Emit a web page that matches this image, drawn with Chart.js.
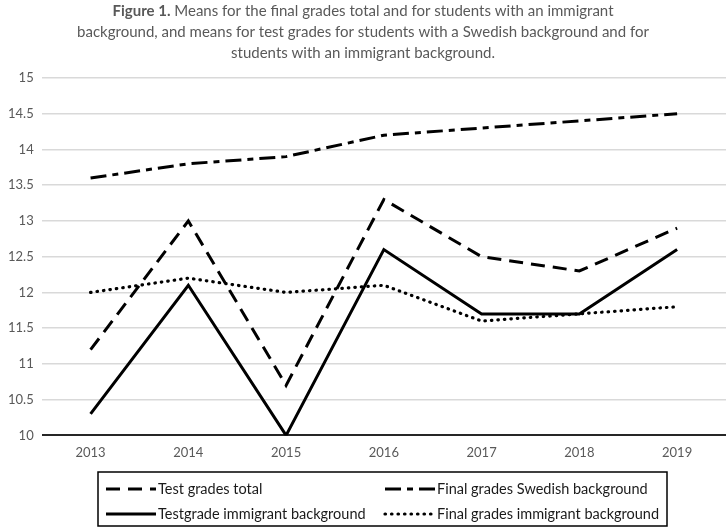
<!DOCTYPE html>
<html>
<head>
<meta charset="utf-8">
<script src="https://cdn.jsdelivr.net/npm/chart.js@4"></script>
<style>
  html, body { margin: 0; padding: 0; background: #fff; overflow: hidden; }
  #wrap { width: 726px; height: 529px; }
</style>
</head>
<body>
<div id="wrap"><canvas id="gradesChart" width="726" height="529"></canvas></div>
<script>
const years = ['2013', '2014', '2015', '2016', '2017', '2018', '2019'];
const testTotal = [11.2, 13.0, 10.7, 13.3, 12.5, 12.3, 12.9];
const finalSwedish = [13.6, 13.8, 13.9, 14.2, 14.3, 14.4, 14.5];
const testImmigrant = [10.3, 12.1, 10.0, 12.6, 11.7, 11.7, 12.6];
const finalImmigrant = [12.0, 12.2, 12.0, 12.1, 11.6, 11.7, 11.8];

const FONT = 'Lato, "Open Sans", sans-serif';

// title with bold "Figure 1." prefix
const titlePlugin = {
  id: 'figTitle',
  afterDraw(chart) {
    const ctx = chart.ctx;
    const cx = chart.width / 2;
    ctx.save();
    ctx.fillStyle = '#595959';
    ctx.textBaseline = 'middle';
    const bold = 'bold 15px ' + FONT;
    const reg = '15px ' + FONT;
    const head = 'Figure 1.';
    const rest = ' Means for the final grades total and for students with an immigrant';
    ctx.font = bold;
    const w1 = ctx.measureText(head).width;
    ctx.font = reg;
    const w2 = ctx.measureText(rest).width;
    let x = cx - (w1 + w2) / 2;
    ctx.textAlign = 'left';
    ctx.font = bold;
    ctx.fillText(head, x, 11);
    ctx.font = reg;
    ctx.fillText(rest, x + w1, 11);
    ctx.textAlign = 'center';
    ctx.fillText('background, and means for test grades for students with a Swedish background and for', cx, 32);
    ctx.fillText('students with an immigrant background.', cx, 53);
    ctx.restore();
  }
};

// boxed two-column legend
const legendPlugin = {
  id: 'boxLegend',
  afterDraw(chart) {
    const ctx = chart.ctx;
    const slots = [
      { x: 106, y: 489 }, { x: 385, y: 489 },
      { x: 106, y: 514 }, { x: 385, y: 514 }
    ];
    ctx.save();
    ctx.strokeStyle = '#000';
    ctx.lineWidth = 1.5;
    ctx.strokeRect(98, 472, 569, 54);
    chart.data.datasets.forEach((ds, i) => {
      const s = slots[i];
      ctx.beginPath();
      ctx.strokeStyle = ds.borderColor;
      ctx.lineWidth = ds.borderWidth;
      ctx.lineCap = ds.borderCapStyle || 'butt';
      ctx.setLineDash(ds.borderDash || []);
      ctx.moveTo(s.x, s.y);
      ctx.lineTo(s.x + 50, s.y);
      ctx.stroke();
      ctx.setLineDash([]);
      ctx.fillStyle = '#1a1a1a';
      ctx.font = '14.5px ' + FONT;
      ctx.textBaseline = 'middle';
      ctx.textAlign = 'left';
      ctx.fillText(ds.label, s.x + 52, s.y);
    });
    ctx.restore();
  }
};

new Chart(document.getElementById('gradesChart').getContext('2d'), {
  type: 'line',
  data: {
    labels: years,
    datasets: [
      {
        label: 'Test grades total',
        data: testTotal,
        borderColor: '#000',
        borderWidth: 3,
        borderDash: [14, 8]
      },
      {
        label: 'Final grades Swedish background',
        data: finalSwedish,
        borderColor: '#000',
        borderWidth: 3,
        borderDash: [16, 6, 6, 6]
      },
      {
        label: 'Testgrade immigrant background',
        data: testImmigrant,
        borderColor: '#000',
        borderWidth: 3
      },
      {
        label: 'Final grades immigrant background',
        data: finalImmigrant,
        borderColor: '#000',
        borderWidth: 3.2,
        borderCapStyle: 'round',
        borderDash: [0.5, 6]
      }
    ]
  },
  options: {
    responsive: false,
    animation: false,
    elements: {
      point: { radius: 0 },
      line: { tension: 0 }
    },
    layout: {
      padding: { top: 78, bottom: 66, left: 0, right: 0 }
    },
    plugins: {
      legend: { display: false },
      title: { display: false },
      tooltip: { enabled: false }
    },
    scales: {
      x: {
        offset: true,
        grid: { display: false },
        border: { display: false },
        ticks: { color: '#595959', font: { family: FONT, size: 13 }, padding: 2 }
      },
      y: {
        min: 10,
        max: 15,
        ticks: {
          stepSize: 0.5,
          color: '#595959',
          font: { family: FONT, size: 13 },
          padding: 8,
          callback: v => String(v)
        },
        grid: {
          color: c => (c.tick && c.tick.value === 10 ? '#262626' : '#d9d9d9'),
          lineWidth: c => (c.tick && c.tick.value === 10 ? 2 : 1.5),
          drawTicks: false
        },
        border: { display: false }
      }
    }
  },
  plugins: [titlePlugin, legendPlugin]
});
</script>
</body>
</html>
